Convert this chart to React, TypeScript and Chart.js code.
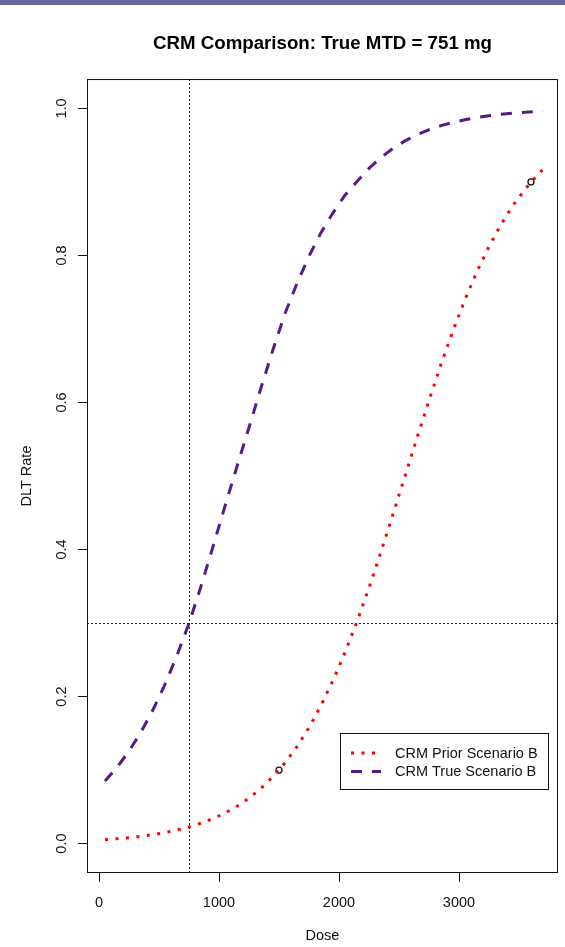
import React, { useEffect, useRef } from "react";
import { Chart, registerables } from "chart.js";

Chart.register(...registerables);

// Dose grid (mg) and DLT probabilities for the two CRM dose-toxicity curves
const DOSES = [
  50, 150, 250, 350, 450, 550, 650, 750, 850, 950, 1050, 1150, 1250, 1350, 1450,
  1550, 1650, 1750, 1850, 1950, 2050, 2150, 2250, 2350, 2450, 2550, 2650, 2750,
  2850, 2950, 3050, 3150, 3250, 3350, 3450, 3550, 3650, 3700,
];
const PRIOR_B = [
  0.0053, 0.0066, 0.0081, 0.0099, 0.0122, 0.015, 0.0185, 0.0226, 0.0278, 0.034,
  0.0416, 0.0507, 0.0618, 0.0751, 0.0911, 0.1099, 0.132, 0.1579, 0.1879, 0.2218,
  0.26, 0.3022, 0.348, 0.397, 0.448, 0.5, 0.5521, 0.603, 0.652, 0.6978, 0.74,
  0.7782, 0.8121, 0.8421, 0.868, 0.8901, 0.9089, 0.9173,
];
const TRUE_B = [
  0.0851, 0.1037, 0.1258, 0.1517, 0.182, 0.2167, 0.256, 0.2997, 0.35, 0.404,
  0.459, 0.513, 0.566, 0.62, 0.672, 0.721, 0.762, 0.799, 0.831, 0.858, 0.882,
  0.9005, 0.9184, 0.9333, 0.9457, 0.9559, 0.9642, 0.971, 0.9766, 0.9811, 0.9847,
  0.9877, 0.9901, 0.992, 0.9936, 0.9948, 0.9958, 0.9963,
];

// Marked doses on the prior curve
const MARK_DOSES = [1500, 3600];
const MARK_RATES = [0.1, 0.9];

const X_TICKS = [0, 1000, 2000, 3000];
const Y_TICKS = [0, 0.2, 0.4, 0.6, 0.8, 1.0];

const TRUE_MTD = 751;
const TARGET_RATE = 0.3;

const TITLE = "CRM Comparison: True MTD = 751 mg";
const X_LABEL = "Dose";
const Y_LABEL = "DLT Rate";
const PRIOR_LABEL = "CRM Prior Scenario B";
const TRUE_LABEL = "CRM True Scenario B";

const FONT = "'Liberation Sans', Arial, Helvetica, sans-serif";
const PRIOR_COLOR = "#ff0000";
const TRUE_COLOR = "#551a8b";

const refLines = {
  id: "refLines",
  beforeDatasetsDraw(chart: any) {
    const { ctx, chartArea } = chart;
    const xs = chart.scales.x;
    const ys = chart.scales.y;
    const px = Math.round(xs.getPixelForValue(TRUE_MTD)) + 0.5;
    const py = Math.round(ys.getPixelForValue(TARGET_RATE)) + 0.5;
    ctx.save();
    ctx.strokeStyle = "#222";
    ctx.lineWidth = 1;
    ctx.setLineDash([2, 2]);
    ctx.beginPath();
    ctx.moveTo(px, chartArea.top);
    ctx.lineTo(px, chartArea.bottom);
    ctx.moveTo(chartArea.left, py);
    ctx.lineTo(chartArea.right, py);
    ctx.stroke();
    ctx.restore();
  },
};

const frameAndLegend = {
  id: "frameAndLegend",
  afterDraw(chart: any) {
    const { ctx, chartArea } = chart;
    ctx.save();
    // plot frame
    ctx.strokeStyle = "#111";
    ctx.lineWidth = 1;
    ctx.setLineDash([]);
    ctx.strokeRect(
      chartArea.left + 0.5,
      chartArea.top + 0.5,
      chartArea.right - chartArea.left - 1,
      chartArea.bottom - chartArea.top - 1
    );

    // legend box
    const boxW = 208;
    const boxH = 56;
    const boxX = chartArea.right - 10 - boxW;
    const boxY = chartArea.bottom - 84 - boxH;
    ctx.fillStyle = "#fff";
    ctx.fillRect(boxX, boxY, boxW, boxH);
    ctx.strokeStyle = "#111";
    ctx.strokeRect(Math.round(boxX) + 0.5, Math.round(boxY) + 0.5, boxW, boxH);

    const lineDatasets = chart.data.datasets.filter((d: any) => d.type === "line");
    lineDatasets.forEach((ds: any, i: number) => {
      const y = boxY + 20 + i * 18.5;
      ctx.strokeStyle = ds.borderColor;
      ctx.lineWidth = ds.borderWidth;
      ctx.setLineDash(ds.borderDash);
      ctx.lineCap = "butt";
      ctx.beginPath();
      ctx.moveTo(boxX + 11, y);
      ctx.lineTo(boxX + 41, y);
      ctx.stroke();
      ctx.setLineDash([]);
      ctx.fillStyle = "#111";
      ctx.font = `14.5px ${FONT}`;
      ctx.textBaseline = "middle";
      ctx.textAlign = "left";
      ctx.fillText(ds.label, boxX + 55, y + 0.5);
    });
    ctx.restore();
  },
};

export default function App() {
  const canvasRef = useRef<HTMLCanvasElement | null>(null);

  useEffect(() => {
    if (!canvasRef.current) return;
    const chart = new Chart(canvasRef.current, {
      type: "line",
      data: {
        datasets: [
          {
            type: "line",
            label: PRIOR_LABEL,
            data: DOSES.map((d, i) => ({ x: d, y: PRIOR_B[i] })),
            borderColor: PRIOR_COLOR,
            borderWidth: 3,
            borderDash: [3, 7.5],
            pointRadius: 0,
            tension: 0,
            fill: false,
          },
          {
            type: "line",
            label: TRUE_LABEL,
            data: DOSES.map((d, i) => ({ x: d, y: TRUE_B[i] })),
            borderColor: TRUE_COLOR,
            borderWidth: 3,
            borderDash: [11, 10],
            pointRadius: 0,
            tension: 0,
            fill: false,
          },
          {
            type: "scatter",
            label: "marks",
            data: MARK_DOSES.map((d, i) => ({ x: d, y: MARK_RATES[i] })),
            borderColor: "#111",
            backgroundColor: "rgba(0,0,0,0)",
            borderWidth: 1.3,
            pointRadius: 3,
            pointStyle: "circle",
          },
        ],
      } as any,
      options: {
        animation: false,
        responsive: false,
        devicePixelRatio: 1,
        layout: { padding: { left: 0, top: 0, right: 7, bottom: 0 } },
        plugins: {
          legend: { display: false },
          tooltip: { enabled: false },
          title: {
            display: true,
            text: TITLE,
            fullSize: false,
            color: "#000",
            font: { family: FONT, size: 18.7, weight: "bold", lineHeight: 1.2 },
            padding: { top: 32.6, bottom: 24 },
          },
        },
        scales: {
          x: {
            type: "linear",
            min: -100,
            max: 3825,
            afterBuildTicks: (s: any) => {
              s.ticks = X_TICKS.map((v) => ({ value: v }));
            },
            afterFit: (s: any) => {
              s.height = 74;
            },
            grid: {
              display: true,
              drawOnChartArea: false,
              drawTicks: true,
              tickLength: 9,
              color: "#111",
              tickColor: "#111",
            },
            border: { display: false },
            ticks: {
              autoSkip: false,
              maxRotation: 0,
              padding: 12,
              color: "#111",
              font: { family: FONT, size: 14.5 },
              callback: (v: any) => String(v),
            },
            title: {
              display: true,
              text: X_LABEL,
              color: "#111",
              font: { family: FONT, size: 14.5 },
              padding: { top: 0, bottom: 2 },
            },
          },
          y: {
            type: "linear",
            min: -0.04,
            max: 1.04,
            afterBuildTicks: (s: any) => {
              s.ticks = Y_TICKS.map((v) => ({ value: v }));
            },
            afterFit: (s: any) => {
              s.width = 87;
            },
            grid: {
              display: true,
              drawOnChartArea: false,
              drawTicks: true,
              tickLength: 9,
              color: "#111",
              tickColor: "#111",
            },
            border: { display: false },
            ticks: {
              autoSkip: false,
              minRotation: 90,
              maxRotation: 90,
              crossAlign: "center",
              padding: 6,
              color: "#111",
              font: { family: FONT, size: 14.5 },
              callback: (v: any) => Number(v).toFixed(1),
            },
            title: {
              display: true,
              text: Y_LABEL,
              color: "#111",
              font: { family: FONT, size: 14.5 },
              padding: { top: 18.5, bottom: 0 },
            },
          },
        },
      } as any,
      plugins: [refLines, frameAndLegend],
    });
    return () => chart.destroy();
  }, []);

  return (
    <div
      style={{
        position: "absolute",
        left: 0,
        top: 0,
        width: 565,
        height: 947,
        background: "#fff",
        overflow: "hidden",
      }}
    >
      <canvas ref={canvasRef} width={565} height={947} style={{ display: "block" }} />
      <div
        style={{
          position: "absolute",
          left: 0,
          top: 0,
          width: 565,
          height: 5,
          background: "#65679a",
        }}
      />
    </div>
  );
}
